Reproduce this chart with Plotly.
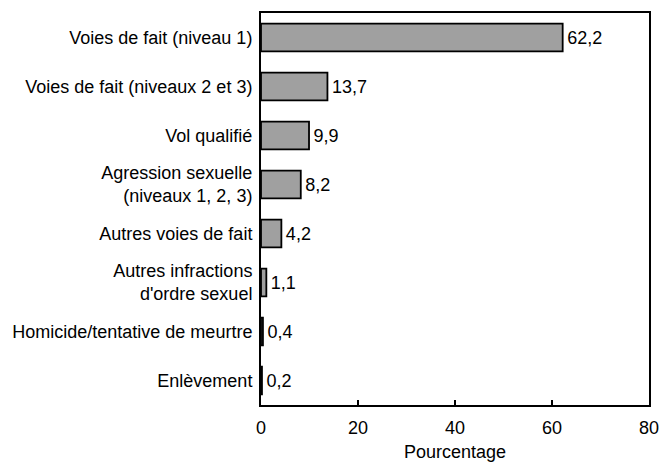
import plotly.graph_objects as go

categories = [
    "Voies de fait (niveau 1)",
    "Voies de fait (niveaux 2 et 3)",
    "Vol qualifié",
    "Agression sexuelle<br>(niveaux 1, 2, 3)",
    "Autres voies de fait",
    "Autres infractions<br>d'ordre sexuel",
    "Homicide/tentative de meurtre",
    "Enlèvement",
]
values = [62.2, 13.7, 9.9, 8.2, 4.2, 1.1, 0.4, 0.2]
x_ticks = [0, 20, 40, 60, 80]

FONT = "Liberation Sans"
SIZE = 18

fig = go.Figure()
fig.add_bar(
    y=categories, x=values, orientation="h",
    marker=dict(color="#a0a0a0", line=dict(color="black", width=1.8)),
    width=0.57,
    texttemplate="\u200a%{x:.1f}", textposition="outside", cliponaxis=False,
    textfont=dict(family=FONT, color="black", size=SIZE),
)

# page body has an 8px margin, so the figure is drawn 8px smaller
fig.update_layout(
    width=660, height=454,
    margin=dict(l=253, r=19, t=5, b=57),
    plot_bgcolor="white", paper_bgcolor="white",
    font=dict(family=FONT, size=SIZE, color="black"),
    separators=", ",
    showlegend=False,
)
fig.update_xaxes(
    range=[0, 80], tickvals=x_ticks, ticks="inside", ticklen=5, tickwidth=2,
    tickcolor="black", showline=True, linewidth=2, linecolor="black", mirror=True,
    showgrid=False, zeroline=False, ticklabelstandoff=5, automargin=False,
    tickfont=dict(family=FONT, size=SIZE, color="black"),
    title=dict(text="Pourcentage", standoff=11, font=dict(family=FONT, size=SIZE)),
)
fig.update_yaxes(
    autorange="reversed", showline=True, linewidth=2, linecolor="black", mirror=True,
    showgrid=False, ticks="", ticklabelstandoff=3, automargin=False,
    tickfont=dict(family=FONT, size=SIZE, color="black"),
)

fig.write_html("out.html")
